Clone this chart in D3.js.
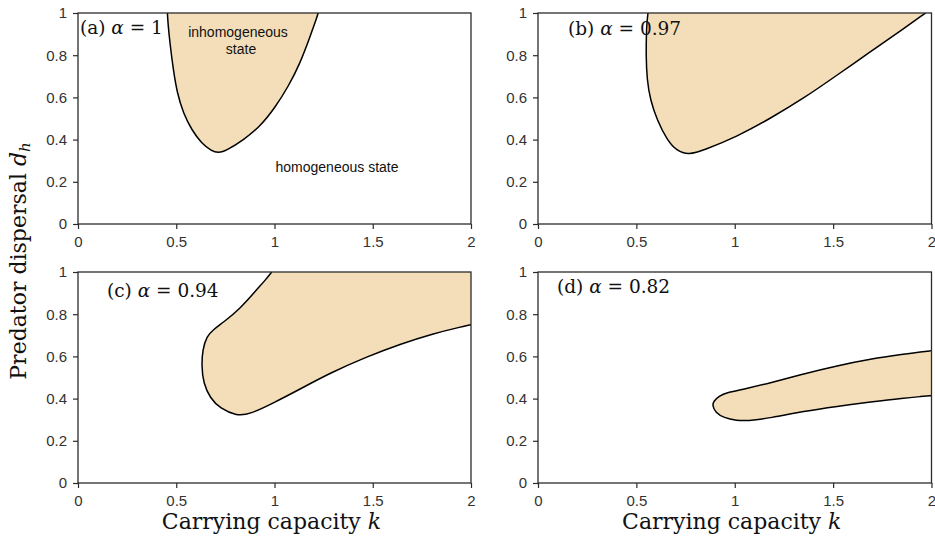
<!DOCTYPE html>
<html>
<head>
<meta charset="utf-8">
<script src="https://cdn.jsdelivr.net/npm/d3@7"></script>
<style>
  html, body { margin: 0; padding: 0; background: #fff; }
  svg { display: block; }
</style>
</head>
<body>
<svg id="chart" width="935" height="541"></svg>
<script>
// ---- data (boundary of the inhomogeneous region) ----
const xTicks = [0, 0.5, 1, 1.5, 2];
const yTicks = [0, 0.2, 0.4, 0.6, 0.8, 1];
const xTickLabels = ["0", "0.5", "1", "1.5", "2"];
const yTickLabels = ["0", "0.2", "0.4", "0.6", "0.8", "1"];

const panelLetters = ["(a)", "(b)", "(c)", "(d)"];
const alphaValues = ["1", "0.97", "0.94", "0.82"];

// panel (a) alpha = 1
const kA = [0.455, 0.458, 0.468, 0.485, 0.505, 0.536, 0.579, 0.629, 0.680, 0.714, 0.757, 0.841, 0.926, 1.003, 1.070, 1.130, 1.181, 1.218, 1.222];
const dA = [1.000, 0.950, 0.856, 0.730, 0.619, 0.525, 0.445, 0.382, 0.346, 0.336, 0.349, 0.398, 0.461, 0.552, 0.651, 0.761, 0.888, 0.985, 1.000];

// panel (b) alpha = 0.97
const kB = [0.559, 0.553, 0.551, 0.549, 0.554, 0.571, 0.605, 0.656, 0.707, 0.766, 0.842, 1.012, 1.182, 1.351, 1.521, 1.690, 1.860, 1.955, 1.970];
const dB = [1.000, 0.950, 0.900, 0.800, 0.682, 0.588, 0.493, 0.398, 0.345, 0.328, 0.350, 0.414, 0.501, 0.596, 0.706, 0.817, 0.927, 0.990, 1.000];

// panel (c) alpha = 0.94
const kC = [0.986, 0.950, 0.909, 0.828, 0.739, 0.689, 0.655, 0.634, 0.629, 0.638, 0.672, 0.723, 0.808, 0.875, 0.994, 1.130, 1.282, 1.469, 1.639, 1.808, 1.950, 2.000];
const dC = [1.000, 0.958, 0.916, 0.829, 0.761, 0.727, 0.695, 0.632, 0.553, 0.474, 0.403, 0.353, 0.318, 0.326, 0.379, 0.445, 0.521, 0.598, 0.658, 0.708, 0.740, 0.750];

// panel (d) alpha = 0.82
const kD = [2.000, 1.950, 1.859, 1.690, 1.520, 1.351, 1.181, 1.046, 0.961, 0.919, 0.893, 0.886, 0.902, 0.944, 1.012, 1.063, 1.181, 1.351, 1.520, 1.690, 1.859, 1.950, 2.000];
const dD = [0.627, 0.622, 0.611, 0.588, 0.556, 0.518, 0.474, 0.445, 0.429, 0.412, 0.388, 0.367, 0.334, 0.309, 0.296, 0.294, 0.308, 0.340, 0.363, 0.384, 0.403, 0.410, 0.414];

// ---- layout ----
const svg = d3.select("#chart");
const fillColor = "#f3deb9";
const axisColor = "#2b2b2b";
const tickFont = "'Liberation Sans', Arial, sans-serif";
const serif = "'DejaVu Serif', 'Liberation Serif', serif";

const xLeft = d3.scaleLinear().domain([0, 2]).range([78, 471]);
const xRight = d3.scaleLinear().domain([0, 2]).range([538, 931.5]);
const yTop = d3.scaleLinear().domain([0, 1]).range([224, 13]);
const yBot = d3.scaleLinear().domain([0, 1]).range([483, 272]);

const panels = [
  { k: kA, d: dA, x: xLeft,  y: yTop, close: "top",    lx: 80,  ly: 34 },
  { k: kB, d: dB, x: xRight, y: yTop, close: "top",    lx: 568, ly: 35 },
  { k: kC, d: dC, x: xLeft,  y: yBot, close: "corner", lx: 107, ly: 297 },
  { k: kD, d: dD, x: xRight, y: yBot, close: "edge",   lx: 557, ly: 293 }
];

panels.forEach((p, i) => {
  const g = svg.append("g");
  const [x0, x1] = p.x.range();
  const [y0, y1] = p.y.range();
  const clipId = "clip" + i;
  svg.append("clipPath").attr("id", clipId)
    .append("rect").attr("x", x0).attr("y", y1).attr("width", x1 - x0).attr("height", y0 - y1);

  const pts = p.k.map((k, j) => [k, p.d[j]]);
  const line = d3.line().x(v => p.x(v[0])).y(v => p.y(v[1])).curve(d3.curveBasis);
  let fillPath = line(pts);
  if (p.close === "corner") fillPath += "L" + p.x(2) + "," + p.y(1);
  fillPath += "Z";

  const plot = g.append("g").attr("clip-path", "url(#" + clipId + ")");
  plot.append("path").attr("d", fillPath).attr("fill", fillColor).attr("stroke", "none");
  plot.append("path").attr("d", line(pts)).attr("fill", "none")
    .attr("stroke", "#000").attr("stroke-width", 1.5);

  // axes
  const ax = d3.axisBottom(p.x).tickValues(xTicks).tickFormat((d, j) => xTickLabels[j])
    .tickSize(5).tickSizeOuter(0).tickPadding(7);
  const ay = d3.axisLeft(p.y).tickValues(yTicks).tickFormat((d, j) => yTickLabels[j])
    .tickSize(5).tickSizeOuter(0).tickPadding(6);
  const gx = g.append("g").attr("transform", `translate(0,${y0})`).call(ax);
  const gy = g.append("g").attr("transform", `translate(${x0},0)`).call(ay);
  [gx, gy].forEach(a => {
    a.select(".domain").remove();
    a.selectAll(".tick line").attr("stroke", axisColor).attr("stroke-width", 1.2);
    a.selectAll(".tick text").attr("fill", "#333").style("font-family", tickFont).style("font-size", "15px");
  });

  // frame
  g.append("rect").attr("x", x0).attr("y", y1).attr("width", x1 - x0).attr("height", y0 - y1)
    .attr("fill", "none").attr("stroke", axisColor).attr("stroke-width", 1.3);

  // panel label
  const t = g.append("text").attr("x", p.lx).attr("y", p.ly)
    .style("font-family", serif).style("font-size", "18.5px").attr("fill", "#111");
  t.append("tspan").text(panelLetters[i] + " ");
  t.append("tspan").style("font-style", "italic").text("α");
  t.append("tspan").text(" = " + alphaValues[i]);
});

// annotations in panel (a)
const ann = svg.append("g").style("font-family", tickFont).style("font-size", "14px").attr("fill", "#111")
  .attr("text-anchor", "middle");
ann.append("text").attr("x", 238).attr("y", 37).text("inhomogeneous");
ann.append("text").attr("x", 241).attr("y", 54).text("state");
ann.append("text").attr("x", 337).attr("y", 172).text("homogeneous state");

// axis titles
const yl = svg.append("text").attr("transform", "translate(26,261) rotate(-90)")
  .attr("text-anchor", "middle").style("font-family", serif).style("font-size", "22px").attr("fill", "#111");
yl.append("tspan").text("Predator dispersal ");
yl.append("tspan").style("font-style", "italic").text("d");
yl.append("tspan").style("font-style", "italic").style("font-size", "15px").attr("dy", 4).text("h");

[xLeft, xRight].forEach(s => {
  const xl = svg.append("text").attr("x", (s.range()[0] + s.range()[1]) / 2 - 3).attr("y", 529)
    .attr("text-anchor", "middle").style("font-family", serif).style("font-size", "22px").attr("fill", "#111");
  xl.append("tspan").text("Carrying capacity ");
  xl.append("tspan").style("font-style", "italic").text("k");
});
</script>
</body>
</html>
